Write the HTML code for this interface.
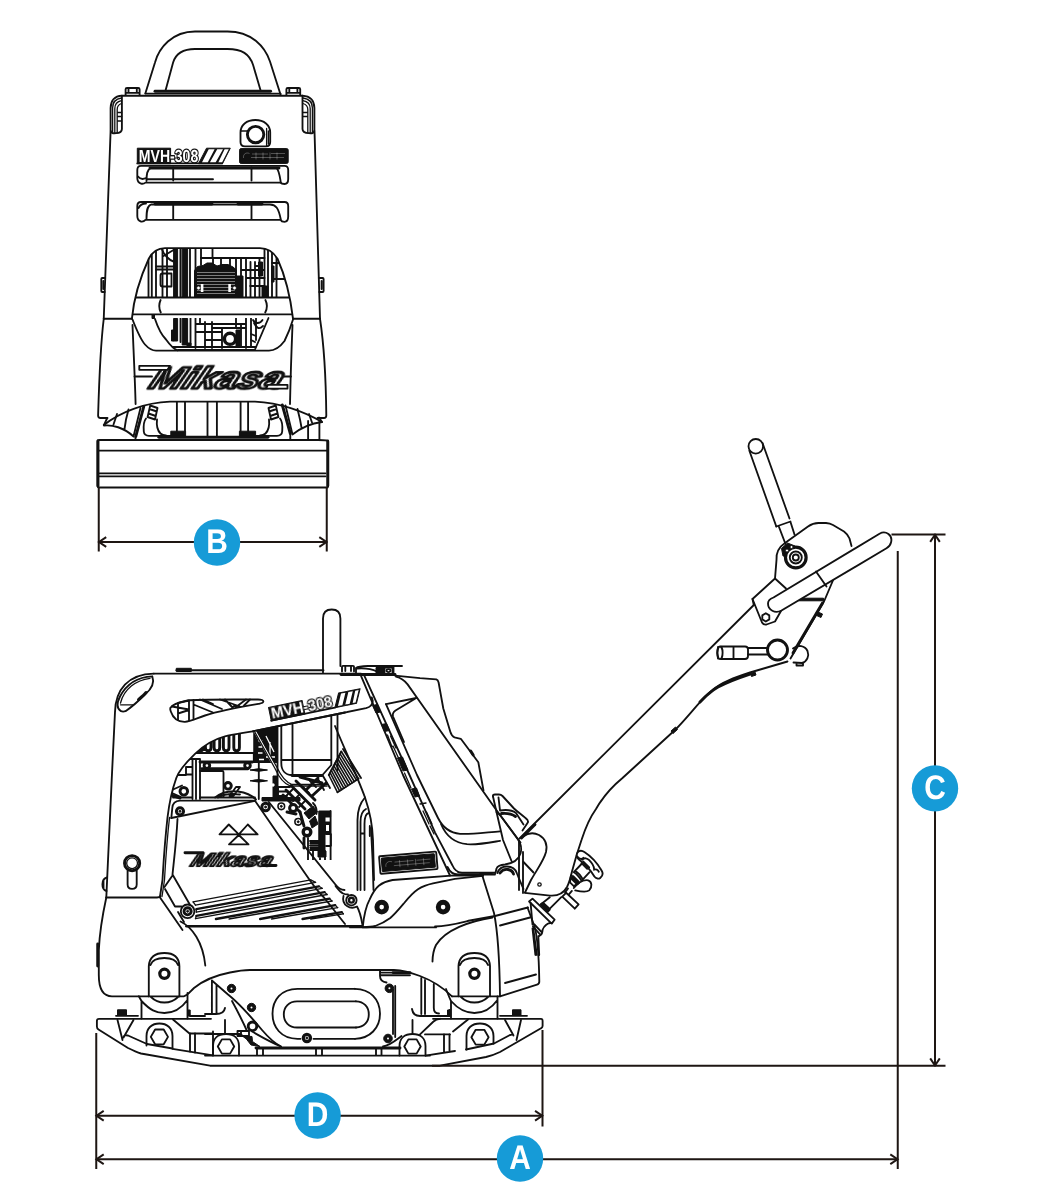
<!DOCTYPE html>
<html lang="en"><head><meta charset="utf-8"><title>MVH-308 dimensions</title>
<style>
html,body{margin:0;padding:0;background:#fff;}
body{width:1041px;height:1200px;overflow:hidden;font-family:"Liberation Sans",sans-serif;}
svg{display:block;}
text{text-rendering:geometricPrecision;}
.mk,.mv,.ct{will-change:opacity;}
.l{fill:none;stroke:#111;stroke-width:1.85;stroke-linejoin:round;stroke-linecap:round;}
.w{fill:#fff;stroke:#111;stroke-width:1.85;stroke-linejoin:round;stroke-linecap:round;}
.k{fill:#111;stroke:#111;stroke-width:1;stroke-linejoin:round;}
.t{fill:none;stroke:#111;stroke-width:1.3;stroke-linejoin:round;stroke-linecap:round;}
.h{fill:none;stroke:#111;stroke-width:2.9;stroke-linejoin:round;stroke-linecap:round;}
.d{fill:none;stroke:#1e1613;stroke-width:2;stroke-linecap:butt;stroke-linejoin:miter;}
.c{fill:#169bd7;stroke:none;}
.ct{fill:#fff;font-family:"Liberation Sans",sans-serif;font-weight:bold;font-size:34px;text-anchor:middle;}
.mk{font-family:"Liberation Sans",sans-serif;font-weight:bold;font-style:italic;fill:#fff;stroke:#111;stroke-width:2.7;stroke-linejoin:round;}
.mv{font-family:"Liberation Sans",sans-serif;font-weight:bold;fill:#fff;stroke:none;}
.mo{fill:#fff;stroke:#111;stroke-width:2.4;paint-order:stroke;stroke-linejoin:round;}
</style></head><body>
<svg width="1041" height="1200" viewBox="0 0 1041 1200">
<rect x="0" y="0" width="1041" height="1200" fill="#fff"/>
<g id="front">
<!-- lifting handle -->
<path class="l" d="M145.4 93.3L155 62.5C159 48 172 31.5 195 31.5H227.5C252 31.5 265 47 270 61.5L280.6 94.8"/>
<path class="l" d="M165.4 91L173.1 62.5C176 53 183 49 195 49H227.5C242 49 249.5 54 253.1 65L260.6 90.6"/>
<path class="h" d="M155 91.3H270.6"/>
<path class="l" d="M145.4 93.6H280.6"/>
<!-- bolts -->
<path class="l" d="M125.6 95V89.2Q125.6 88 127 88H138.2Q139.6 88 139.6 89.2V95M128.5 88.3V92.5M136.8 88.3V92.5M125.6 92.8H139.6"/>
<path class="l" d="M286.4 95V89.2Q286.4 88 287.8 88H298.8Q300.2 88 300.2 89.2V95M289.3 88.3V92.5M297.4 88.3V92.5M286.4 92.8H300.2"/>
<!-- upper body -->
<path class="l" d="M121.9 95.7H302.5"/>
<path class="l" d="M121.9 95.7C114 96.2 110.8 101 110.6 108V130C110.6 133 112.5 133.5 116 133.2C120 133 121.9 132 121.9 129V95.7"/>
<path class="t" d="M121.5 98C115.5 98.8 112.6 102.5 112.6 108V132M121.5 100.6C117 101.5 114.8 104.5 114.8 108.5V132.5M121.5 103.5C118.5 104.5 117.2 106.5 117.2 109.5V132.8M117.4 112.5H121.6M117.4 116.5H121.6M117.4 121H121.6"/>
<path class="l" d="M302.5 95.7C310.5 96.2 314.2 101 314.4 108V130C314.4 133 312.5 133.5 309 133.2C305 133 302.5 132 302.5 129V95.7"/>
<path class="t" d="M303 98C309.5 98.8 312.4 102.5 312.4 108V132M303 100.6C308 101.5 310.2 104.5 310.2 108.5V132.5M303 103.5C306.5 104.5 307.8 106.5 307.8 109.5V132.8M303 112.5H307.6M303 116.5H307.6"/>
<path class="l" d="M110.6 131L103.75 318.75M314.5 131L320 318.75"/>
<path class="l" d="M105.2 278H102.2Q101.3 278 101.3 279V291Q101.3 292 102.2 292H104.7M103.4 281V289"/>
<path class="l" d="M318.8 278H322.6Q323.6 278 323.6 279V291Q323.6 292 322.6 292H319.3M321.6 281V289"/>
<!-- cap -->
<path class="l" d="M240.5 132.5C240.5 125 246.5 120 255.4 120C264 120 270.2 125 270.2 132.5V142C270.2 145 268.5 146.3 266 146.3H245C242.3 146.3 240.5 145 240.5 142Z"/>
<circle class="h" cx="255.6" cy="134.6" r="8.2"/>
<path class="t" d="M240.8 131H247.5M266.6 128.5V146M268.4 131V144"/>
<!-- MVH label -->
<rect class="k" x="137.300" y="148.200" width="33.300" height="15.500"/>
<text class="mv" x="138.800" y="162" font-size="17.500" textLength="59.500" lengthAdjust="spacingAndGlyphs"><tspan>MVH</tspan><tspan class="mo" style="stroke-width:2.600">-308</tspan></text>
<path class="k" d="M198.500 163.700L206.500 148.200H230.300L222.500 163.700Z"/>
<path d="M201.900 162.600L208.700 149.300H214.600L207.700 162.600ZM209.800 162.600L217.200 149.300H223L215.600 162.600ZM218.300 162.600L224.600 149.300H228.800L222 162.600Z" fill="#fff"/>
<path class="l" d="M137.300 163.400H222"/>
<!-- engine label -->
<rect class="k" x="239.600" y="148.600" width="48.600" height="14.800" rx="1.500"/>
<path d="M243.500 158C243 154 246 152 249.500 153.500M251 157.500H284M252 154H268M271 153.500H285M256 152.500V159.500M263 152.500V159.500M270 152.500V159.500M277 152.500V159.500" fill="none" stroke="#fff" stroke-width="0.500" opacity="0.550"/>
<!-- slots -->
<path class="l" d="M141 165.8H284.5Q288.2 165.8 288.2 170V179Q288.2 184 284.5 184Q281.5 184 280.5 182.6H145.5Q143.5 184.2 141 183.6Q137.3 182.5 137.3 178V170Q137.3 165.8 141 165.8Z"/>
<path class="h" d="M150 168H279"/>
<path class="l" d="M146.5 181C146.5 174 147 169.5 151 168M173.2 167.5V180.5M251.5 167.5V180.5M277 168.5C279.5 172 280 178 280.8 182.5M147 179.2H213M138 176.5C140 179 143 179.5 146 178"/>
<path class="l" d="M141 202H284.5Q288.2 202 288.2 206V216.5Q288.2 221.8 284.5 221.8Q281.5 221.8 280.5 219.8H145.5Q143.5 222 141 221.5Q137.3 220.5 137.3 216V206Q137.3 202 141 202Z"/>
<path class="l" d="M146.5 219C146.5 211 147 206 151 204.5H270C276 204.8 278.5 208 280.8 219.5M173.2 204V219M251.5 204V219M138.5 208C140 205 143 203.5 146 203.5"/>
<path class="h" d="M155 204H212M238 204H262"/>
<!-- engine opening -->
<path class="l" d="M131.9 318.6C133.5 302 138.5 281 148.75 258.75C153 250.5 159 248.1 165 248.1H260C266 248.1 272.5 250.5 277.5 258.75C287.5 281 291 302 293 318.6"/>
<path class="l" d="M136.4 297.5H288.6M132.8 314.4H292.2M103.75 318.75H131.9M293 318.75H320"/>
<path class="l" d="M160.6 300C158.8 304 158.8 308.5 160.8 312.5M265.4 300C267.4 304 267.4 308.5 265.2 312.5"/>
<!-- lower body -->
<path class="l" d="M103.75 318.75C100.5 345 99 385 98.1 415.5Q98.1 418 100.5 418H107.5"/>
<path class="l" d="M320 318.75C324 345 326 385 326.3 415.5Q326.3 418 324 418H317.5"/>
<path class="l" d="M132.5 325C133.5 350 135 380 135.6 404M292.5 325C291.5 350 290.5 380 290 404"/>
<path class="l" d="M132.5 319.5C137 331 140.5 339.5 145 344.5C149 349 152 350.6 156 350.6H269C275 350.6 280 347 284.5 341C288 334 291 326 293 319.5"/>
<path class="l" d="M155 319C158 328 162 335.5 166 339.5C170 345 173 349 177.5 350.4M268.5 318L255 349.5"/>
<!-- skirt -->
<path class="l" d="M103.8 425C120 412 145 402.5 170 401.6H255C280 402.5 305 412 322 422"/>
</g>

<g id="front-engine">
<clipPath id="fe1"><path d="M131.900 318.600C133.500 302 138.500 281 148.750 258.750C153 250.500 159 248.100 165 248.100H260C266 248.100 272.500 250.500 277.500 258.750C287.500 281 291 302 293 318.600Z"/></clipPath>
<clipPath id="fe2"><path d="M155 318C158 328 162 335.500 166 339.500C170 345 173 349 177.500 350.400H255L268.500 318Z"/></clipPath>
<g clip-path="url(#fe1)">
<!-- upper opening internals -->
<path class="l" d="M148.5 259V297M151.8 254V297M156 251V297M162.5 249V297M167 249V297M190 249V297M195.5 249V297M201 249V265M212.5 249V258M264.5 249V297M268 250V297M272 253V297M276.5 257V297"/>
<path class="k" d="M173.6 248.5H177.6V297H173.6ZM182.2 248.5H187.6V297H182.2ZM180 248.5H181V297H180Z"/>
<path class="l" d="M156 266.5H173.5M156 269.5H173.5M162 249.5C164 255 169 260 173.5 261.5M173.5 250L163.5 256"/>
<path class="l" d="M160.5 275.5Q160.5 273.5 162.5 273.5H171.5V286.5H162.5Q160.5 286.5 160.5 284.5Z"/>
<path class="l" d="M201 258H264.5M213 258V266M221 258V268M230 258V266M236 258V282M241 258V297M246 258V297M250.5 262V297M255 262V297M259.5 258V297M241 270H264M246 278H264.5M250 286H264.5M255 266H260M272 263H279.5M272 279H285M276.500 263V279"/>
<path class="k" d="M194.5 270.5L197.5 266.5L203 265.5L207 263L212 263L217 266L222 264.5L228 264.5L233 267L236.5 270V297H194.5Z"/>
<path d="M197 272.5H235M197 275.5H235M197 278.5H235M197 281.5H235M197 284.5H235M197 287.5H235M197 290.5H235M197 293.5H235" fill="none" stroke="#fff" stroke-width="0.45"/>
<path class="k" d="M236.5 276H243V297H236.5ZM258.5 262H262.5V276H258.5ZM271.500 266H274V282H271.500ZM262 286H268V297H262Z"/>
<circle cx="198.500" cy="288" r="1.900" fill="#fff" stroke="#111" stroke-width="0.8"/><rect x="200.8" y="284" width="2.6" height="8" fill="#fff" stroke="none"/>
<circle cx="234.5" cy="288" r="1.900" fill="#fff" stroke="#111" stroke-width="0.8"/><rect x="228.3" y="284" width="2.6" height="8" fill="#fff" stroke="none"/>
</g>
<g clip-path="url(#fe2)">
<!-- lower opening internals -->
<path class="k" d="M173.6 318.500H177.6V341H173.6ZM182.2 318.500H187.6V345H182.2ZM171.500 330H174V341H171.500ZM187 343H191V347H187Z"/>
<path class="l" d="M180.500 318.500V342M190.500 318.500V345M195.500 318.500V348M205 322V348M212 322V348M246 318.500V348M251 318.500V346M256 318.500V340M195.500 324H246M195.500 332H222M205 340H222M212 328H246M170 347H256M178 350H256M200 318.500V324M222 328V348M236 318.500V328M241 324V346"/>

<path class="l" d="M253 320C255 324 260 324 262.500 320M254 323C256.500 328 259 330 263 326M251 334L256 336M251 340L255 342"/>
<circle cx="230" cy="338.800" r="5.600" fill="#fff" stroke="#111" stroke-width="3.400"/>
<path class="k" d="M236 330H240V347H236Z"/>
</g>
</g>
<path class="k" d="M152 314.500H154.500V318.500H152Z"/>

<g id="front-low">
<!-- Mikasa logo -->
<path class="l" d="M134.500 376.500H152M282 376.500H291"/>
<g transform="translate(147.500 388.300) skewX(-24)">
<text class="mk" x="0" y="0" font-size="30.500" textLength="132" lengthAdjust="spacingAndGlyphs">Mikasa</text>
</g>
<path class="w" d="M139.300 365.800H170L167.500 369.800H139.300Z"/>
<path class="w" d="M268 384.800H287.500V388.600H266Z"/>
<!-- skirt fins -->
<path class="l" d="M103.800 425.500L107 418.500M103.800 425.500C112 424.500 124 427.500 133.500 436.500L140.500 408M117 414L113.500 424.500M126 419.500L124.500 429M128.500 409.500L126 419.500"/>
<path class="h" d="M143.800 406.500L135.800 436.500"/>
<path class="l" d="M322 422L319 417.500M322 422C314 423 302 427 292.500 434.500L285.500 405.500M309 414L312 422.500M300 419.500L301.500 427.500M297.500 409L300 419.500"/>
<path class="h" d="M282.300 405L290.300 433.500"/>
<path class="l" d="M308.100 421V439.500M319.400 421.500V439.500"/>
<!-- nuts -->
<path class="l" d="M150.200 405.500L157.500 408L155 419.500L147.600 417ZM149.400 409L156.800 411.500M148.500 413.500L155.800 416"/>
<path class="l" d="M275.800 405.500L268.500 408L271 419.500L278.400 417ZM276.600 409L269.200 411.500M277.500 413.500L270.200 416"/>
<!-- u bracket -->
<path class="l" d="M146 418.500C143 422 143.500 428 143.800 431.500Q144.200 435.800 149 435.800H171M157 419.500C156.500 424 157 430 160.500 433.500Q162.500 435.500 166 435.500"/>
<path class="l" d="M280 418.500C283 422 282.500 428 282.200 431.500Q281.800 435.800 277 435.800H256M269 419.500C269.500 424 269 430 265.500 433.500Q263.500 435.500 260 435.500"/>
<!-- rods -->
<path class="l" d="M176.900 402V431M185 402V431M207.500 402V436M216.900 402V436M240.600 402V431M248.100 402V431"/>
<path class="k" d="M170.800 431.200H185.600V437H170.800ZM239.400 431.200H255.600V437H239.400Z"/>
<path class="h" d="M158.800 437.300H268"/>
<!-- base plate -->
<path class="l" d="M108 440H318Q328.200 440 328.200 441.500V485.500Q328.200 487.500 326.500 487.500H99.200Q97.500 487.500 97.500 485.500V441.500Q97.500 440 99.500 440H110M135.500 436.500V440M290.300 434V440M98.500 450.600H327.500M98.500 487.500H327.500"/>
<path class="l" d="M99.500 473.300H325.500M99.500 476.300H325.500"/>
<path class="h" d="M98 441V486M327.700 441V486"/>
</g>

<g id="side-body">
<!-- post -->
<path class="l" d="M323 672.500V618.500Q323 609.500 331.700 609.500Q340.400 609.500 340.400 618.500V666"/>
<!-- top -->
<path class="k" d="M176.300 668.300H191.300V671.500H176.300Z"/>
<path class="l" d="M176.300 670.200H323.500M153.800 673.600H361"/>
<path class="l" d="M153.800 673.600C128 674 115.500 690 115 712L111.700 780L106.300 897.500"/>
<!-- leaf hole -->
<path class="l" d="M152.300 676.300C154.500 682 152 688.500 145 694.500C138 701.500 131 707.500 125.500 711.200Q123 712 121 711.200C116.500 708.500 117 702.500 120 696.500C126 685 137 677 152.300 676.300Z"/>
<path class="t" d="M150 678.300C136 680 124 689 120.500 703M120.500 704.800H133"/>
<path class="h" d="M138.500 699.500C141.500 697 144 695 146 692.500"/>
<!-- truss cutout -->
<path class="l" d="M170.300 708C172 705 178 702.500 187.500 700.500C196 699.200 205 699.400 258 699.500Q263.500 699.500 263.400 701.500Q263.300 703 259 703.800C240 707 222 710 205 715.500C196 718.500 190 721.500 185 721.800C178 722 173 718 170.800 711.500Q170 709.500 170.300 708Z"/>
<path class="l" d="M178 703V720M172 706.500L189 709.500M178 713.500L189 710M189 700.500V720.500M193.500 700V718.500M178 703L189 700.500M193.500 704.500L213 712.500M200 699.500L222 709M203 699.500L213 704M220 699.500L240 706.500M225 699.500L232.500 707.500M246 699.500L236 707M250 699.500L244 705.500M232.500 707.500C234 705 238 705 239.500 706.500"/>
<!-- keyhole -->
<circle class="h" cx="132.100" cy="863.200" r="7.600"/>
<circle class="t" cx="132.100" cy="863.200" r="5.400"/>
<path class="l" d="M127.600 869.500V884.500Q127.600 888.800 132.100 888.800Q136.700 888.800 136.700 884.500V869.500"/>
<path class="l" d="M106.900 877.500C101 879 101 889.500 106.500 891M103.500 880.500V888.500"/>
<!-- seam and lower body left -->
<path class="l" d="M106.300 897.500H157Q159.500 897.500 160.500 896"/>
<path class="l" d="M106.300 897.500C102.500 915 99.500 935 98.800 950V975C98.800 988 102 996.300 112 996.300H148.800M179.400 996.300H183.800C188 995.500 190 991.500 194 988C202 981.500 212 976 230 972.500C238 970.800 244 970 250 970H393.800C404 970.500 412 973 420 976C432 980.500 444 988.500 452 996.300"/>
<path class="h" d="M97.700 944V966"/>
<!-- cavity left edge -->
<path class="l" d="M345 712.500L252.500 731.300C240 733.500 232 734.500 225 736.300C213 739.500 203 746 195 753.800C186 762.500 179 770 176.300 778C172 790 169 805 167.500 817.500C165 840 163.500 862 162.500 880L160 896.500"/>
<path class="t" d="M169.500 817.500C167 840 165.500 862 164.500 880L162 896.500"/>
<!-- lower diag from seam -->
<path class="l" d="M160 897.500L168 909L182.500 930"/>
</g>

<g id="side-engine">
<clipPath id="cav"><path d="M345 712.500L252.500 731.300C240 733.500 232 734.500 225 736.300C213 739.500 203 746 195 753.800C186 762.500 179 770 176.300 778C172 790 169 805 167.500 817.500L165 860H380V700Z"/></clipPath>
<g clip-path="url(#cav)">
<path class="h" d="M197.7 733V747.5Q197.7 750.8 200.5 750.8Q203.3 750.8 203.3 747.5V733M205.4 733V747.5Q205.4 750.8 208.2 750.8Q211.0 750.8 211.0 747.5V733M214.1 733V747.5Q214.1 750.8 216.9 750.8Q219.7 750.8 219.7 747.5V733M223.4 733V747.5Q223.4 750.8 226.2 750.8Q229.0 750.8 229.0 747.5V733M233.8 733V747.5Q233.8 750.8 236.6 750.8Q239.4 750.8 239.4 747.5V733"/>
<path class="l" d="M190 753H254M186 767H192.500V774.500H186ZM192.500 759V799M196 759V799M200 759V799M182 759H200M178 775H186"/>
<path class="h" d="M200 762H252.500M202 768.800H248"/>
<circle class="h" cx="206.900" cy="765.600" r="2.800"/><circle class="h" cx="247.500" cy="765.600" r="2.800"/>
<path class="l" d="M200 771H222.500Q223.500 771 223.500 772.500V797.500M200 797.500H255"/>
<circle class="h" cx="183.800" cy="791.300" r="3.800"/>
<path class="l" d="M172 790L182 785.500M172 793L181 797M173 797.500H192"/>
<path class="h" d="M172.500 795.500L180 798"/>
<circle class="h" cx="228" cy="785.800" r="3.300"/>
<path class="l" d="M229.500 796L236 787H240L233.500 796ZM215 797.500C222 792 230 790.500 238 791.500C246 792.500 252 795.500 256 799.500M218 797.500C224 794 232 793.500 240 794.500"/>
<path class="k" d="M250 770Q258.500 767.500 267.500 770Q258.500 772.500 250 770ZM250 780.800Q258.500 778.300 267.500 780.800Q258.500 783.300 250 780.800Z"/>
<path class="l" d="M258.800 762V799M253.800 753V762"/>
<!-- dark block -->
<path class="k" d="M253.800 730.500L277.500 725.500V762.500H253.800Z"/>
<path d="M258.500 741H263M258.500 747H262M258 753H262.500M266 736L274 752M270 742V758M266 757H275M259 759.500H264" fill="none" stroke="#fff" stroke-width="1.300"/>
<path d="M255 731L275.500 768C279 776 284 783 291 785.500H327" fill="none" stroke="#fff" stroke-width="2.600"/>
<path class="t" d="M254.500 731.500L275 768.500C278.500 776.500 283.500 783.500 290.500 786.200H327M256.500 730.500L277 767.500C280.500 775 285.500 782 292 784.500H327"/>
<!-- air cleaner -->
<path class="l" d="M277.500 725V775M281.300 724V763C281.300 770 285 775 292 775H322.500L331.300 765M292.500 722V775M331.300 714V765M337.500 713V770M281.300 760H331.300"/>
<path class="h" d="M292 775.500H322"/>
<!-- fins -->
<path class="h" style="stroke-width:1.600" d="M341.3 751.5L358.5 778.8M340.1 753.9L356.4 780.1M338.8 756.2L354.3 781.5M337.6 758.5L352.2 782.8M336.3 760.9L350.1 784.2M335.1 763.2L348.0 785.5M333.8 765.6L345.9 786.9M332.6 768.0L343.8 788.2M331.3 770.3L341.7 789.6M330.1 772.6L339.6 790.9M328.8 775.0L337.5 792.3"/>
<path class="l" d="M341.300 751.500L328.800 775M358.500 778.800L337.500 792.300M343 749L361 778"/>
<!-- carb / governor cluster -->
<path class="k" d="M273 776H278V800H273ZM262 797.500H300V801H262Z"/>
<circle cx="273" cy="785" r="1.700" fill="#fff"/>
<path class="l" d="M275 787H290M275 791.500H288M275 796H287M278 787V797"/>
<path class="h" d="M286 790L305 809M291 785.500L311 805.500M296 781L315 800M283 795L300 812M300 777L322 783M306 790L318 778M312 796L326 783"/>
<path class="l" d="M287 795L293 789M293 801L299 795M299 807L305 801M303 787L309 793M310 781L316 787M318 779L324 790M323 776L330 788"/>
<path class="k" d="M304 813L313 806L317.500 812L309 819ZM309.500 821L315 816L318 824L312 828Z"/>
<path class="l" d="M313 803C316 806 317 810 316.500 814"/>
<circle cx="281.300" cy="806.300" r="3.300" fill="#fff" stroke="#111" stroke-width="1.600"/><circle class="k" cx="281.300" cy="806.300" r="1"/>
<circle cx="293.200" cy="808" r="3.600" fill="#fff" stroke="#111" stroke-width="3"/>
<circle cx="298.200" cy="821.800" r="3.300" fill="#fff" stroke="#111" stroke-width="1.600"/><circle class="k" cx="298.200" cy="821.800" r="1"/>
<circle cx="307" cy="832" r="3.800" fill="#fff" stroke="#111" stroke-width="3.400"/>
<path class="h" d="M287 812L296 814M300 812L304 826M304 838V848"/>
<!-- F bracket -->
<path class="k" d="M318.800 811H330.600V817H325V822H330V834H325V851H318.800Z"/>
<path d="M326 825H329V831H326ZM326 836H329V842H326Z" fill="#fff"/>
<path class="l" d="M330.600 811V851M326 834H331V846H326M310 841H320M310 845.500H320M310 850H320M308 838V860M313 851V864M325 851V870M330.600 851V875M320 858V869"/>
<path class="k" d="M310 842.500H319V844H310ZM310 847H319V848.500H310ZM318 851H326V857H318Z"/>
</g>
</g>

<g id="side-panel">
<!-- belt cover panel -->
<path class="l" d="M255 800.600H180Q172.800 801 172.300 808L171.300 818"/>
<path class="l" d="M171.300 818L255 800.800L308.800 878.800C312 883.500 318 892 324 897.500L345 924"/>
<path class="l" d="M268.800 802L335 884C338 888 341 890 344.500 890"/>
<path class="l" d="M177.500 819C176.500 840 174 860 172.500 874.500L189.500 904M172.500 875.500L164.500 887"/>
<circle class="h" cx="180" cy="811.300" r="3.600"/><circle class="k" cx="180" cy="811.300" r="1"/>
<circle class="h" cx="265.600" cy="807" r="3.800"/><circle class="k" cx="265.600" cy="807" r="1"/>
<circle class="l" cx="187.600" cy="911.300" r="6.800"/><circle class="h" cx="187.600" cy="911.300" r="3.600"/><circle class="k" cx="187.600" cy="911.300" r="1"/>
<path class="l" d="M165 889L175 906.500H181.500M178 912L184 922"/>
<!-- triangles -->
<path class="l" d="M228.800 824.500L219.500 834.400H257.600L247.800 824.500L238.800 834.400ZM238.800 835L229 844.400H248.500Z"/>
<!-- Mikasa -->
<g transform="translate(189.500 866) skewX(-24)">
<text class="mk" x="0" y="0" font-size="18.500" textLength="81" lengthAdjust="spacingAndGlyphs" style="stroke-width:1.900">Mikasa</text>
</g>
<path class="h" d="M185 852.800H203M263 865.500H276"/>
<!-- louvers -->
<path class="t" style="stroke-width:1.300" d="M193.1 901.9L310.7 879.8M195.5 905.1L315.6 882.3M196.3 912.2L322.2 888.3M195.5 918.7L327.1 894.5M229.0 919.0L332.0 901.0M271.5 919.0L337.7 907.6M310.7 919.0L343.4 913.8"/>
<path class="h" style="stroke-width:2.300" d="M196.3 909.2L318.9 886.3M196.3 915.8L324.6 892.1M215.9 919.0L329.5 898.6M260.1 919.0L335.2 905.1M302.5 919.0L341.8 912.2"/>
<path class="t" d="M310.7 879.8L315.6 882.3M318.9 886.3L322.2 888.3M324.6 892.1L327.1 894.5M329.5 898.6L332.0 901.0M335.2 905.1L337.7 907.6M341.8 912.2L343.4 913.8M193.1 901.9L195.5 905.1M196.3 909.2L196.3 912.2M196.3 915.8L195.5 918.7"/>
<path class="h" style="stroke-width:2.600" d="M186.500 926.200H362"/>
<path class="l" d="M350 927.400H436"/>
</g>

<g id="side-lower">
<!-- fender arcs -->
<path class="l" d="M180.500 921.500C192 927 203 942 205.300 965.500M492.500 917.500C470 921 445 930 436 945C433.500 950 432.600 955 432.500 961.500"/>
<!-- seam right -->
<path class="l" d="M435 926.500C448 926.500 460 923 470 920.500L495 916L528 907.500"/>
<!-- upper body bottom edge right part -->
<path class="l" d="M362.700 927.200C364 915 366 906 369.600 899.600C373 892 376 888 378.800 885.700C383 882.500 387 881 392.600 880L455 875.400L483 875.500"/>
<path class="l" d="M362.700 927.200C368 927.200 372 927 375.300 926C381 924 385.500 921.500 390.300 918C395 914 400 908 404.200 903C409 897 413 892.500 418 889.200C423 886 428 884.500 433 883.400L455 878.800L483 875.800"/>
<circle cx="381.700" cy="907.100" r="4.800" fill="#fff" stroke="#111" stroke-width="5"/>
<circle cx="443.100" cy="907.100" r="4.800" fill="#fff" stroke="#111" stroke-width="5"/>
<circle class="l" cx="351.400" cy="900.200" r="5.200"/><circle cx="351.400" cy="900.200" r="2.400" fill="#fff" stroke="#111" stroke-width="2.400"/>
<path class="l" d="M335.500 886C338 889 340 892 343 893.500C345 894.500 346.500 894.500 348 894.500M343.500 896C342.500 900 344 904 347 906C350 908 354 908 357 906.500C359 910 361 916 362.500 925"/>
<!-- rear box -->
<path class="l" d="M482.500 876.300L494 913C497.500 930 499.500 955 500 996.300M527.500 907.500L534 925C537.500 935 538.800 950 539.300 981.500Q539.300 984 537 984.700L500 996.300"/>
<path class="l" d="M500 925.500L530 917.500M505 983L536 974.500"/>
<!-- mounts -->
<path class="l" d="M148.800 996.300V966C149.500 957 155 953 164.400 953C173.500 953 179 957 179.400 966V996.300M150.500 965C152 960.500 157 958 164.400 958C171.500 958 176.500 960.500 178 965"/>
<circle cx="164.400" cy="973.800" r="4.600" fill="#fff" stroke="#111" stroke-width="3.200"/>
<path class="l" d="M458.500 996.300V966C459 957 465 953 474.400 953C483.500 953 489.500 957 490 966V996.300M460 965C461.500 960.500 467 958 474.400 958C481.500 958 486.500 960.500 488 965"/>
<circle cx="474.400" cy="973.800" r="4.600" fill="#fff" stroke="#111" stroke-width="3.200"/>
<path class="l" d="M148.800 996.300H179.400M452 996.300H500"/>
<!-- rubber mounts -->
<path class="l" d="M138.800 996.300L141.500 1001V1018.500M187.500 993V1018.500M141.500 1001C150 1010 156 1013 164.400 1013C173 1013 181 1009 187.500 1000M151 997C155 1001 159 1002.500 164.400 1002.500C170 1002.500 174 1001 178 997"/>
<path class="l" d="M446 989C448 994 449.500 998 451 1001V1018.500M497.500 996.500V1018.500M451 1001C459 1010 466 1013 474.400 1013C483 1013 491 1009 497.500 1000M461 997C465 1001 469 1002.500 474.400 1002.500C480 1002.500 484 1001 488 997"/>
<!-- vibrator housing -->
<path class="l" d="M211.900 980.500L228 994.500C240 1004 252 1018 262 1030C268 1037 274 1043 281 1046.500M211.900 980.500V1014M216.500 985V1014M232 1001C238 1012 243 1022 247 1031M205 1014H216Q224 1014 225 1008M225 1020V1033"/>
<circle class="k" cx="231.500" cy="988.500" r="4.200"/><circle cx="231.500" cy="988.500" r="1" fill="#fff"/>
<circle class="k" cx="251.500" cy="1007.500" r="4.200"/><circle cx="251.500" cy="1007.500" r="1" fill="#fff"/>
<circle class="h" cx="252.500" cy="1026.300" r="4.300"/>
<path class="l" d="M252 1031.500C260 1036 270 1042 281 1046.500"/>
<path class="l" d="M297.500 988.800H355M297.500 1038.800H300.500M313.500 1038.800H355M297.500 988.800C281 988.800 272.500 1000 272.500 1013.800C272.500 1027 281 1038.800 297.500 1038.800"/>
<path class="l" d="M297 1001.300H356M297 1027.500H356M297 1001.300C289 1001.300 283.800 1007 283.800 1014.400C283.800 1022 289 1027.500 297 1027.500"/>
<path class="l" d="M355 988.800C370 989 380 999 380 1013.800C380 1028 370 1038.500 355 1038.800M356 1001.300C364 1001.500 368.800 1007 368.800 1014.400C368.800 1022 364 1027.300 356 1027.500"/>
<circle cx="306.900" cy="1038" r="3.600" fill="#fff" stroke="#111" stroke-width="3.200"/><circle class="k" cx="306.900" cy="1038" r="1"/>
<path class="l" d="M380 970V976Q380 981.500 386.500 982.500M393 990V1034M395.200 986V1037M381 972.600H410M381 975.200H410"/>
<path class="h" d="M393 972.600H410"/>
<circle class="k" cx="389.400" cy="988.300" r="4.300"/><circle cx="389.400" cy="988.300" r="1" fill="#fff"/>
<circle class="k" cx="388" cy="1038.500" r="4.300"/><circle cx="388" cy="1038.500" r="1" fill="#fff"/>
<path class="l" d="M421.300 978V1014M425 980V1014M433.800 984V1008Q433.800 1013.500 439 1013.500M412 1009Q413 1016 420 1016H450M412.500 1020V1033M449.500 1010V1016"/>
<path class="k" d="M447.500 1010H450.500V1016H447.500ZM187.700 1010H190.200V1016H187.700Z"/>
<path class="l" d="M190 1016H205"/>
<!-- base plate -->
<path class="l" d="M211 1018.800H99Q96.900 1018.800 96.900 1021V1026.500Q96.900 1028.500 98.500 1029.500L128 1048C132 1050 136 1052 141 1053.500L210 1065.700H440L486 1057C490 1056 494 1055 500 1052L541 1028.300Q542.600 1027.500 542.600 1026V1021Q542.600 1018.800 541 1018.800H433"/>
<path class="l" d="M116 1015.800H138M500 1015.800H527"/>
<path class="k" d="M117.500 1009.800H126.500V1015.500H117.500ZM512.500 1009.800H521V1015.500H512.500Z"/>
<path class="l" d="M117.500 1020L122.500 1040M133.500 1020L123.500 1037.500Q123.500 1034.500 128 1035.500L147 1044L172.500 1048.500M521 1020L516.500 1040M505 1020L513.500 1035.500Q513 1034 510 1035L494 1043.500L466 1049.500"/>
<path class="l" d="M173 1019.500L189.500 1033.500H213M146.500 1045.500V1036C146.500 1028 152 1023.500 159.400 1023.500C167 1023.500 172.500 1028 172.500 1036V1048.500M172.500 1048.800L213 1055.300"/>
<path class="l" d="M168.0 1036.9L163.7 1044.3L155.1 1044.3L150.8 1036.9L155.1 1029.5L163.7 1029.5Z"/>
<path class="l" d="M190 1033.500V1051.500M195 1033.500V1052.500M213 1031.500V1055"/>
<path class="l" d="M213 1055.600V1046C213 1038 218.500 1034 226 1034C233.500 1034 239 1038 239 1046V1055.600M205 1034H240L246 1038"/>
<path class="l" d="M234.2 1046.5L230.1 1053.6L221.9 1053.6L217.8 1046.5L221.9 1039.4L230.1 1039.4Z"/>
<path class="l" d="M237.500 1031H249V1036H237.500ZM241 1031V1036"/>
<path class="k" d="M244 1036L252 1036.500L252.500 1041.500L260 1046.500L251 1045Z"/>
<path class="h" d="M256 1048H400"/>
<path class="l" d="M205 1055.600H430M257 1049V1055.600M263 1049V1055.600M316 1049V1055.600M322 1049V1055.600M376 1049V1055.600M381.500 1049V1055.600"/>
<path class="l" d="M383 1046.500C390 1045.500 396 1040 401.500 1036M425 1034.400H450"/>
<path class="l" d="M399.500 1055.600V1046C399.500 1038 405 1034 412.500 1034C420 1034 425.500 1038 425.500 1046V1055.600M420.7 1046.5L416.6 1053.6L408.4 1053.6L404.3 1046.5L408.4 1039.4L416.6 1039.4Z"/>
<path class="l" d="M420 1034.400L433.500 1021.500Q436 1019 440 1018.800M444 1034.400V1052.500M449.500 1034.400V1051.500M425.500 1055.600L455 1051"/>
<path class="l" d="M453 1031.500L468 1019.500M466.500 1049.500V1036C466.500 1028 472 1023.500 480 1023.500C487.500 1023.500 493.500 1028 493.500 1036V1043.500M488.6 1037.2L484.3 1044.6L475.7 1044.6L471.4 1037.2L475.7 1029.8L484.3 1029.8Z"/>
</g>

<g id="side-cover">
<!-- hinge on top -->
<path class="l" d="M342 671.500V666.800Q342 665.800 343 665.800H353Q354 665.800 354 666.800V671.500M345.300 666V671M351 666V671"/>
<path class="l" d="M356 668C358 666.500 362 666.200 368 666H402M356 668V672.500M357 668.500C364 668 372 669 377 671.500"/>
<path class="k" d="M376 667.500H384V674.500H376Z"/>
<path class="l" d="M384.500 667.500H392.500V674H384.500Z"/><ellipse class="l" cx="388.500" cy="670.600" rx="2" ry="1.500"/>
<path class="l" d="M393.500 666V673.500"/>
<path class="h" d="M341 674.500H395"/>
<!-- MVH label (rotated) -->
<g transform="translate(271.300 721) rotate(-11.600)">
<rect class="k" x="0" y="-13.800" width="34.300" height="13.800"/>
<text class="mv" x="1.500" y="-1.700" font-size="15.500" textLength="62" lengthAdjust="spacingAndGlyphs"><tspan>MVH</tspan><tspan class="mo" style="stroke-width:2.300">-308</tspan></text>
<path class="l" d="M0 -0.300H65"/>
<path class="k" d="M65 -0.200L71.500 -13.800H93.500L87 -0.200Z"/>
<path d="M68.300 -1.200L73.800 -12.800H78.300L72.800 -1.200ZM75.800 -1.200L81.300 -12.800H85.800L80.300 -1.200ZM83.300 -1.200L88.300 -12.800H91.800L86.300 -1.200Z" fill="#fff"/>
</g>
<path class="l" d="M252.500 731.300L345 712.500L366 708.200Q372.500 706.500 372.800 701L371.800 697.500"/>
<!-- diagonal rails -->
<path class="l" d="M360.600 674.800L403 775L450 875.500M364.400 675.800L409.500 775L435.100 832.600L452.500 865.500Q455.500 872.500 462 872.800H495"/>
<path class="l" d="M386 704.100L417 775L438 818C443 828 450 833 460 833.800C470 834.500 485 832.500 500 831.300"/>
<path class="l" d="M441 824C446 836 455 843 467 844.200C478 845 490 842.500 500 840.800"/>
<path class="k" d="M372.500 705.500L377 704.500L380.500 712L376 713ZM381.500 724.500L386.500 723.500L389.500 730.500L384.500 731.500ZM397.500 758L402.500 757L408 770L403 771ZM411.500 789L416.500 788L419.500 796L415 797Z"/>
<path class="t" d="M387.500 735L392 747M390.500 736L396 748M393 746L398.500 758M404.500 773L411 788M420 804L426 803M423 811L429 824M426.500 812L432 824M430 826L434 834"/>
<!-- tank cover outline -->
<path class="l" d="M395 675.600L420 678.200L436.300 679.400Q438 680 438.600 682.500L443.300 708.500L450.300 731.800Q451.500 736 454.500 737.300L460.800 738.800L478.300 762.200L483.500 790.500"/>
<path class="h" d="M470.700 751L473.200 755"/>
<path class="l" d="M396 676.700C401 678 404.500 680.500 407.600 684.400L494.700 807.700L520.500 842.500"/>
<path class="l" d="M386 704.100L416.300 698L395.500 710.500Q392 713 393 716.500L404 742"/>
<!-- cover bottom -->
<path class="l" d="M447.500 867Q451 874.500 458 874.500H495"/>
<path class="t" d="M458 872.500H495M480 873.500H492"/>
<!-- engine label -->
<g transform="translate(380.500 873.800) rotate(-4.800)">
<rect class="l" x="0" y="-17.500" width="57.300" height="17.500" rx="1"/>
<rect class="k" x="2" y="-15.500" width="53.300" height="13.500" rx="1"/>
<path d="M6 -6.500C5.500 -10.500 9 -12.500 12.500 -11M14 -7H50M15 -10.500H34M37 -10.500H51M20 -12V-5M28 -12V-5M36 -12V-5M44 -12V-5" fill="none" stroke="#fff" stroke-width="0.500" opacity="0.550"/>
</g>
<!-- cover left curve -->
<path class="l" d="M335 726C345 750 358 778 365 797.500C370 812 372.500 825 373 840L374 880"/>
<path class="l" d="M365 797.500C360 803 357.500 810 357.500 820V890M360.500 890V822C360.500 815 362 811 366 809M364.500 890V824Q364.500 813.500 369 813M369.800 826V836M361 833.500H364.500"/>
<path class="l" d="M371 828C372 845 373 865 373.500 890"/>
</g>

<g id="handle">
<!-- pivot bracket/hook -->
<path class="l" d="M493 796.500Q492.500 794.500 495 794.500H499Q501 794.500 502.500 796L514 808.500C518 812.500 524 816 527.500 820Q528.500 821.500 527.500 823L522.500 830.500"/>
<path class="l" d="M493 796.500L496.500 812L500 815M498.500 797.500L500 810.500C506 809.500 512 810 516 813L523.500 824.500"/>
<path class="h" d="M501.500 813.500C507 813 512 814 515.500 816.500"/>
<path class="l" d="M496.500 812L503 840L511.500 861M500 815L518 839.500C521 844 522 849 520.500 853.500C518.500 860 512 863.500 505 864.500Q498 865 496.500 868.500L495.500 873"/>
<path class="l" d="M497.500 873C499 868 503 866.500 507 866.500C512 866.500 515.500 869 517 873.500C519 879 521.500 884 523.500 889"/>
<path class="h" d="M500 873C502 870 505 869 508 869.500C511 870 513 872 513.500 874"/>
<path class="l" d="M519 842V890M523 852V893"/>
<!-- lobe -->
<path class="l" d="M523 836.500C528 833 534 832.500 539 835C545 838.500 547.500 845 546 852C544 860 538 868 531 880L525 892.500"/>
<path class="l" d="M523.500 862L533.500 872.500"/>
<circle class="t" cx="539.500" cy="884.500" r="1.700"/>
<!-- arm -->
<path class="l" d="M519.500 838.500L526 832L753.800 605"/>
<path class="h" d="M521.500 838L535 824.500"/>
<path class="l" d="M524.800 892.800L550 895.600C558 896.200 564 892.500 567 887C569.500 882 571 876 572 871.500C575 860 578 850 581.500 840C586 826 591 816 596 809C604 795 614 785 622.500 778L675 730C690 715 700 700 712.500 690C722 682 735 677.500 750 672.500L787.500 661.500"/>
<path class="k" d="M671 731L675.500 727L677.500 729.500L673 733.500ZM750.500 673.500L755 672L756 675L751.500 676.500Z"/>
<path class="h" d="M700 702C706 695.500 712 690.500 718 687C727 682 738 678 750 674"/>
<!-- knobs at lower arm -->
<path class="w" d="M577.6 852.5C579.6 850.1 582.4 850.6 584.4 852.0C591.1 856.3 597.8 864.0 601.7 870.7C603.1 873.1 602.6 876.0 600.2 877.9C598.3 879.4 595.9 878.4 594.4 876.5C591.1 870.7 586.3 865.0 578.6 859.2C576.7 857.8 576.2 854.4 577.6 852.5Z"/>
<path class="l" d="M582.4 859.7C584.4 857.3 587.2 858.3 589.2 860.2C592.0 863.1 594.0 865.9 594.0 868.8M577.6 856.8C579.6 859.2 582.0 859.7 583.4 857.8M594.0 869.8C595.9 868.8 597.8 869.8 598.8 871.7M581.5 863.1L587.2 868.8M583.4 861.6L589.2 867.4"/>
<path class="l" d="M573.8 872.2L581.5 864.0M581.5 880.8L589.6 872.2M573.8 872.2C576.2 873.6 579.6 877.5 581.5 880.8M575.2 870.7C577.6 872.2 581.0 876.0 582.9 879.4"/>
<path class="h" d="M572.8 876.5L578.6 882.3M571.9 878.4L577.2 883.7"/>
<path class="l" d="M570.9 875.5L570.0 882.3L573.8 886.1L578.6 883.2"/>
<path class="l" d="M573.8 888.0C577.6 883.2 583.4 879.4 588.2 880.3C592.0 881.3 592.5 887.1 589.2 890.4C586.3 892.8 579.6 891.4 575.2 890.4"/>
<path class="l" d="M568.0 888.5L565.1 892.4M571.9 890.9L568.5 894.8M549.8 897.2L540.7 904.4M561.3 897.2L548.8 909.6"/>
<path class="w" d="M562.3 896.7L566.1 892.8L578.6 904.4L574.8 908.7Z"/>
<path class="l" d="M540.7 904.4L542.6 902.9L549.8 909.6L547.9 911.6Z"/>
<path class="h" d="M542.6 905.3L547.4 909.6M544.0 904.4L548.6 908.5"/>
<path class="w" d="M529.1 901.5L532.5 898.6L554.6 919.7L551.7 923.6Z"/>
<path class="l" d="M530.6 902.9L532.5 924.5M551.7 923.1C547.9 922.6 544.0 925.5 542.6 929.8C542.3 931.7 542.6 933.2 541.1 934.6L539.2 936.1M533.0 926.5L540.7 935.1M534.4 924.5L542.1 932.7M532.5 928.4L535.4 955.0M538.3 936.1L539.2 955.0M533.4 929.3L536.8 955.0"/>
<!-- head: lever -->
<path class="l" d="M749.300 450.500L776.300 526.500M762.500 443L789.500 518.500"/>
<circle class="w" cx="755.800" cy="446.300" r="7.300"/>
<path class="l" d="M776.300 526.500L790.500 521.500M779 527L785.500 544M790.500 522L794.500 534.500"/>
<!-- head housing -->
<path class="l" d="M785 543L808 526.500Q813 523 818.500 523H826Q830 523.300 833 525L844 531.500Q848 534.500 849.500 538.500L851.500 546"/>
<path class="l" d="M785 543C779 547 776 553 776.500 560L775 578.500L752.500 599L762 622.500Q763.500 625 766.500 624.500L775 621.500L781 611"/>
<path class="l" d="M775 578.500L786 588.500"/>
<path class="l" d="M753.800 605L752.500 599M834 578L824 601.500L790.500 658.500"/>
<path class="k" d="M798.500 598.200H823.500V600.800H798.500Z"/>
<path class="h" d="M822.500 603L793 653"/>
<path class="k" d="M818 612L822.500 614L821 617.500L816.500 615.500Z"/>
<!-- grip -->
<path class="w" d="M773.500 597.500L879.500 533.700C886 530 893 535.500 891 542.500C890.500 545 889 546.800 886.500 548.300L781.500 610.500C775 614 768 610 768 603.500C768 601 770 598.800 773.500 597.500Z"/>
<path class="l" d="M816 571.500L826.500 586.500"/>
<!-- pivot bolt -->
<path class="k" d="M781.500 548.500L787.500 543L795 546L790 557L783 556Z"/>
<circle cx="795.800" cy="557.500" r="10.300" fill="#fff" stroke="#111" stroke-width="3.200"/>
<circle class="l" cx="795.800" cy="557.500" r="6"/>
<circle class="l" cx="795.800" cy="557.500" r="3"/>
<circle cx="787" cy="550.500" r="1.600" fill="#fff" stroke="#111" stroke-width="1"/>
<circle cx="791.500" cy="547" r="1.600" fill="#fff" stroke="#111" stroke-width="1"/>
<!-- hex bolt -->
<path class="l" d="M765.800 613.300L769.300 615.400V619.400L765.800 621.500L762.300 619.400V615.400Z"/>
<!-- knob with grip -->
<circle class="h" cx="777.500" cy="650" r="10"/>
<path class="l" d="M748 648H768M748 654.500H768.500"/>
<path class="l" d="M721 646.500H745Q748 646.500 748 649.500V656Q748 659 745 659H721M733.500 646.500V659"/>
<ellipse class="l" cx="720" cy="652.800" rx="2.600" ry="6.300"/>
<path class="l" d="M718 647Q716.500 652.800 718 658.500"/>
<!-- ball 2 -->
<path class="l" d="M793 648.500C798 644.500 805 645.500 807.500 651C809.500 656 807 661.500 802 663L793.500 662.500M796.500 663V665.500H803V663"/>
</g>

<g id="dims" class="d">
<!-- B -->
<path d="M98.750 487.500V551.500M326.750 487.500V551.500M98.750 542H326.750"/>
<path d="M106.200 537.200L99 542L106.200 546.800M319.300 537.200L326.500 542L319.300 546.800"/>
<!-- D and A -->
<path d="M96.250 1033V1169M542.500 1030V1126.500M897.750 551V1169"/>
<path d="M96.250 1115.750H542.500M96.250 1159.250H897.750"/>
<path d="M103.700 1110.950L96.500 1115.750L103.700 1120.550M535.050 1110.950L542.250 1115.750L535.050 1120.550"/>
<path d="M103.700 1154.450L96.500 1159.250L103.700 1164.050M890.300 1154.450L897.500 1159.250L890.300 1164.050"/>
<!-- ground and C -->
<path d="M432 1065.750H945.500M891.500 534.500H945.500M935 534.500V1065.750"/>
<path d="M930.200 541.900L935 534.700L939.800 541.900M930.200 1058.350L935 1065.550L939.800 1058.350"/>
</g>
<g id="labels">
<circle class="c" cx="217" cy="542.5" r="23.200"/><text class="ct" transform="translate(217 553.2) scale(0.880 1)" x="0" y="0">B</text>
<circle class="c" cx="317.6" cy="1115.5" r="23.200"/><text class="ct" transform="translate(317.6 1126.2) scale(0.880 1)" x="0" y="0">D</text>
<circle class="c" cx="520" cy="1158.5" r="23.200"/><text class="ct" transform="translate(520 1169.2) scale(0.880 1)" x="0" y="0">A</text>
<circle class="c" cx="935" cy="788.4" r="23.200"/><text class="ct" transform="translate(935 799.1) scale(0.880 1)" x="0" y="0">C</text>
</g>

</svg>
</body></html>
